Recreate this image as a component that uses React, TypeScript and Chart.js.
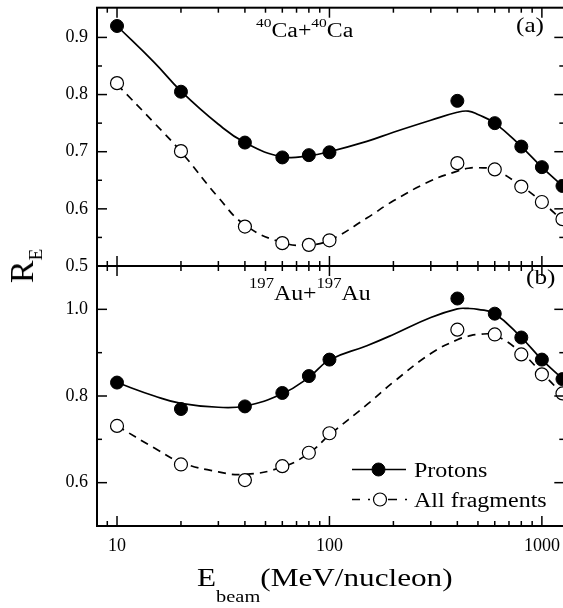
import React, { useEffect, useRef } from "react";
import { Chart, registerables } from "chart.js";

Chart.register(...registerables);

// ---------- data ----------
const ENERGIES = [10, 20, 40, 60, 80, 100, 400, 600, 800, 1000, 1250];
const CA_PROTONS = [0.92, 0.805, 0.716, 0.69, 0.694, 0.699, 0.789, 0.75, 0.709, 0.673, 0.64];
const CA_FRAGMENTS = [0.82, 0.701, 0.569, 0.54, 0.537, 0.545, 0.68, 0.669, 0.639, 0.612, 0.582];
const AU_PROTONS = [0.831, 0.77, 0.776, 0.807, 0.846, 0.884, 1.025, 0.99, 0.935, 0.884, 0.839];
const AU_FRAGMENTS = [0.731, 0.642, 0.606, 0.638, 0.669, 0.714, 0.953, 0.942, 0.896, 0.85, 0.806];

// fitted curves
const FIT_E = [10, 15, 20, 30, 40, 60, 80, 100, 150, 200, 300, 400, 450, 500, 600, 800, 1000, 1250];
const CA_PROTONS_FIT = [0.92, 0.856, 0.806, 0.748, 0.716, 0.691, 0.693, 0.7, 0.718, 0.734, 0.755, 0.769, 0.771, 0.765, 0.75, 0.709, 0.673, 0.64];
const CA_FRAGMENTS_FIT = [0.818, 0.75, 0.7, 0.62, 0.572, 0.541, 0.537, 0.545, 0.584, 0.614, 0.649, 0.666, 0.671, 0.672, 0.668, 0.64, 0.612, 0.58];
const AU_PROTONS_FIT = [0.831, 0.8, 0.783, 0.774, 0.777, 0.805, 0.843, 0.883, 0.916, 0.942, 0.981, 1.001, 1.002, 1.0, 0.99, 0.935, 0.884, 0.84];
const AU_FRAGMENTS_FIT = [0.731, 0.68, 0.647, 0.625, 0.619, 0.636, 0.668, 0.71, 0.78, 0.832, 0.898, 0.93, 0.938, 0.942, 0.94, 0.9, 0.853, 0.805];

const X_MIN = 8.05;
const X_MAX = 1275;
const X_LABELS = [10, 100, 1000];
const X_MINOR = [9, 20, 30, 40, 50, 60, 70, 80, 90, 200, 300, 400, 500, 600, 700, 800, 900];
const Y_TOP_RANGE = [0.5, 0.952];
const Y_TOP_LABELS = [0.5, 0.6, 0.7, 0.8, 0.9];
const Y_TOP_MINOR = [0.55, 0.65, 0.75, 0.85];
const Y_BOT_RANGE = [0.5, 1.1];
const Y_BOT_LABELS = [0.6, 0.8, 1.0];
const Y_BOT_MINOR = [0.7, 0.9];

const SERIF = "'Liberation Serif', 'Times New Roman', serif";
const W = 563;
const H = 608;
const CW = W + 9;

const pts = (xs: number[], ys: number[]) => xs.map((x, i) => ({ x, y: ys[i] }));

function framePlugin(yMajor: number[], yMinor: number[]) {
  return {
    id: "frame",
    afterDatasetsDraw(chart: any) {
      const { ctx, chartArea: a, scales } = chart;
      const xs = scales.x;
      const ys = scales.y;
      ctx.save();
      ctx.strokeStyle = "#000";
      ctx.lineWidth = 1.5;
      const seg = (x1: number, y1: number, x2: number, y2: number) => {
        ctx.beginPath();
        ctx.moveTo(x1, y1);
        ctx.lineTo(x2, y2);
        ctx.stroke();
      };
      const xt = (vals: number[], len: number) => {
        for (const v of vals) {
          const p = xs.getPixelForValue(v);
          seg(p, a.top, p, a.top + len);
          seg(p, a.bottom, p, a.bottom - len);
        }
      };
      const yt = (vals: number[], len: number) => {
        for (const v of vals) {
          const p = ys.getPixelForValue(v);
          seg(a.left, p, a.left + len, p);
          seg(a.right, p, a.right - len, p);
        }
      };
      xt(X_LABELS, 10);
      xt(X_MINOR, 5);
      yt(yMajor, 10);
      yt(yMinor, 5);
      ctx.lineWidth = 2;
      ctx.strokeRect(a.left, a.top, a.right - a.left, a.bottom - a.top);
      ctx.restore();
    },
  };
}

function makeConfig(
  protons: number[],
  frags: number[],
  pFit: number[],
  fFit: number[],
  yRange: number[],
  yLabels: number[],
  yMinor: number[],
  top: boolean
): any {
  const fitStyle = {
    showLine: true,
    pointRadius: 0,
    borderColor: "#000",
    borderWidth: 1.7,
    tension: 0.45,
    order: 2,
  };
  return {
    type: "scatter",
    data: {
      datasets: [
        {
          label: "Protons",
          data: pts(ENERGIES, protons),
          showLine: false,
          pointRadius: 6.5,
          pointBackgroundColor: "#000",
          pointBorderColor: "#000",
          pointBorderWidth: 1,
          order: 1,
        },
        {
          label: "All fragments",
          data: pts(ENERGIES, frags),
          showLine: false,
          pointRadius: 6.5,
          pointBackgroundColor: "#fff",
          pointBorderColor: "#000",
          pointBorderWidth: 1.2,
          order: 1,
        },
        { label: "Protons fit", data: pts(FIT_E, pFit), ...fitStyle },
        { label: "Fragments fit", data: pts(FIT_E, fFit), ...fitStyle, borderDash: [8, 6] },
      ],
    },
    options: {
      responsive: false,
      animation: false,
      devicePixelRatio: 1,
      layout: {
        padding: top
          ? { top: 5, bottom: H - 266, left: 0, right: 2 }
          : { top: 266, bottom: 0, left: 0, right: 2 },
      },
      plugins: { legend: { display: false }, tooltip: { enabled: false } },
      scales: {
        x: {
          type: "logarithmic",
          display: !top,
          min: X_MIN,
          max: X_MAX,
          grid: { display: false, drawTicks: false },
          border: { display: false },
          afterBuildTicks: (s: any) => {
            s.ticks = X_LABELS.map((v) => ({ value: v }));
          },
          afterFit: (s: any) => {
            s.height = top ? 0 : H - 526;
            s.paddingLeft = 0;
            s.paddingRight = 0;
            s.paddingTop = 0;
            s.paddingBottom = 0;
          },
          ticks: {
            padding: 9,
            color: "#000",
            maxRotation: 0,
            autoSkip: false,
            font: { family: SERIF, size: 18 },
            callback: (v: any) => String(v),
          },
        },
        y: {
          type: "linear",
          min: yRange[0],
          max: yRange[1],
          grid: { display: false, drawTicks: false },
          border: { display: false },
          afterBuildTicks: (s: any) => {
            s.ticks = yLabels.map((v) => ({ value: v }));
          },
          afterFit: (s: any) => {
            s.width = 97;
            s.paddingLeft = 0;
            s.paddingRight = 0;
            s.paddingTop = 0;
            s.paddingBottom = 0;
          },
          ticks: {
            padding: 9,
            color: "#000",
            autoSkip: false,
            font: { family: SERIF, size: 18 },
            callback: (v: any) => Number(v).toFixed(1),
          },
        },
      },
    },
    plugins: [framePlugin(yLabels, yMinor)],
  };
}

const abs = (s: React.CSSProperties): React.CSSProperties => ({
  position: "absolute",
  fontFamily: SERIF,
  color: "#000",
  whiteSpace: "nowrap",
  lineHeight: 1,
  transformOrigin: "left center",
  ...s,
});

export default function App() {
  const topRef = useRef<HTMLCanvasElement>(null);
  const botRef = useRef<HTMLCanvasElement>(null);

  useEffect(() => {
    const c1 = new Chart(
      topRef.current as HTMLCanvasElement,
      makeConfig(CA_PROTONS, CA_FRAGMENTS, CA_PROTONS_FIT, CA_FRAGMENTS_FIT, Y_TOP_RANGE, Y_TOP_LABELS, Y_TOP_MINOR, true)
    );
    const c2 = new Chart(
      botRef.current as HTMLCanvasElement,
      makeConfig(AU_PROTONS, AU_FRAGMENTS, AU_PROTONS_FIT, AU_FRAGMENTS_FIT, Y_BOT_RANGE, Y_BOT_LABELS, Y_BOT_MINOR, false)
    );
    return () => {
      c1.destroy();
      c2.destroy();
    };
  }, []);

  const sup = (t: string, size: number, rise: number) => (
    <span style={{ fontSize: size, position: "relative", top: -rise, lineHeight: 0 }}>{t}</span>
  );

  return (
    <div
      style={{
        position: "fixed",
        left: 0,
        top: 0,
        width: W,
        height: H,
        overflow: "hidden",
        background: "#fff",
      }}
    >
      <canvas ref={topRef} width={CW} height={H} style={{ position: "absolute", left: 0, top: 0 }} />
      <canvas ref={botRef} width={CW} height={H} style={{ position: "absolute", left: 0, top: 0 }} />

      {/* panel labels */}
      <div style={abs({ left: 256, top: 20, fontSize: 20, transform: "scaleX(1.19)" })}>
        {sup("40", 13, 10)}Ca+{sup("40", 13, 10)}Ca
      </div>
      <div style={abs({ left: 516, top: 15, fontSize: 21, transform: "scaleX(1.2)" })}>(a)</div>
      <div style={abs({ left: 249, top: 282.5, fontSize: 20, transform: "scaleX(1.19)" })}>
        {sup("197", 14, 12)}Au+{sup("197", 14, 12)}Au
      </div>
      <div style={abs({ left: 526, top: 267, fontSize: 21, transform: "scaleX(1.2)" })}>(b)</div>

      {/* y title */}
      <div
        style={abs({
          left: 22,
          top: 266,
          fontSize: 34,
          lineHeight: "34px",
          transformOrigin: "center center",
          transform: "translate(-50%, -50%) rotate(-90deg)",
        })}
      >
        R<span style={{ fontSize: 19, position: "relative", top: 9, lineHeight: 0 }}>E</span>
      </div>

      {/* x title */}
      <div style={abs({ left: 197, top: 565, fontSize: 26, transform: "scaleX(1.2)" })}>
        E<span style={{ fontSize: 17, position: "relative", top: 16, lineHeight: 0 }}>beam</span>(MeV/nucleon)
      </div>

      {/* legend */}
      <svg width={W} height={H} style={{ position: "absolute", left: 0, top: 0, pointerEvents: "none" }}>
        <line x1={352} y1={469.5} x2={406} y2={469.5} stroke="#000" strokeWidth={1.7} />
        <circle cx={378.5} cy={469.5} r={6.5} fill="#000" stroke="#000" />
        <line
          x1={352}
          y1={499.5}
          x2={407}
          y2={499.5}
          stroke="#000"
          strokeWidth={1.7}
          strokeDasharray="8 8 2 18 9 8 2 10"
        />
        <circle cx={380} cy={499.5} r={6.5} fill="#fff" stroke="#000" strokeWidth={1.2} />
      </svg>
      <div style={abs({ left: 414, top: 460.2, fontSize: 20, transform: "scaleX(1.2)" })}>Protons</div>
      <div style={abs({ left: 414, top: 489.7, fontSize: 20, transform: "scaleX(1.2)" })}>All fragments</div>
    </div>
  );
}
